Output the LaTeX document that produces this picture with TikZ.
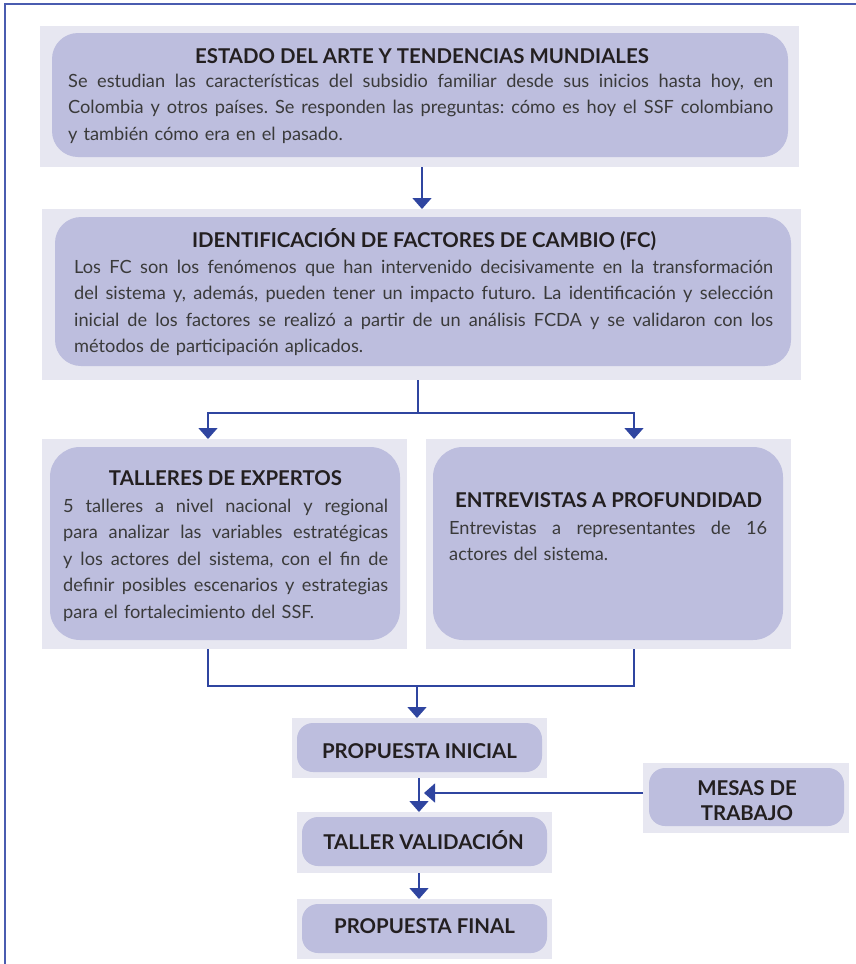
\documentclass[tikz,border=0pt]{standalone}
\usepackage{fontspec}
\setmainfont{Lato}
\usetikzlibrary{arrows.meta}
\definecolor{outerc}{HTML}{E7E7F1}
\definecolor{innerc}{HTML}{BDBEDE}
\definecolor{linec}{HTML}{2F45A0}
\definecolor{framec}{HTML}{4A5CB0}
\definecolor{titlec}{HTML}{231F20}
\definecolor{bodyc}{HTML}{3A3A3A}
\newcommand\jline[2]{\hbox to #1pt{\spaceskip=\fontdimen2\font plus 1fil\relax #2}\par}
\newcommand\lastln[1]{\hbox{#1}\par}
\tikzset{
  outerbox/.style={fill=outerc, draw=none, anchor=north west, inner sep=0pt, outer sep=0pt},
  innerbox/.style={fill=innerc, draw=none, anchor=north west, inner sep=0pt, outer sep=0pt, rounded corners=#1},
  innerbox/.default=26pt,
  titletext/.style={anchor=base, inner sep=0pt, text=titlec, font=\fontsize{20.4}{25}\selectfont\bfseries},
  bodytext/.style={anchor=base west, inner sep=0pt, text=bodyc, font=\fontsize{18.2}{26.5}\selectfont\frenchspacing},
  conn/.style={draw=linec, line width=1.5pt},
  arr/.style={conn, -{Triangle[width=19pt,length=11pt]}},
}
\begin{document}
\begin{tikzpicture}[x=1pt,y=-1pt]
\useasboundingbox (0,0) rectangle (856,964);
\draw[framec, line width=1.3pt] (5,964) -- (5,4) -- (856,4);

% Box 1
\node[outerbox, minimum width=759, minimum height=141] (b1o) at (40,26) {};
\node[innerbox, minimum width=736, minimum height=124] (b1i) at (52,33) {};
\node[titletext] (b1t) at (422,63) {ESTADO DEL ARTE Y TENDENCIAS MUNDIALES};
\node[bodytext, text width=705] (b1b) at (68,87) {%
\jline{705}{Se estudian las características del subsidio familiar desde sus inicios hasta hoy, en}
\jline{705}{Colombia y otros países. Se responden las preguntas: cómo es hoy el SSF colombiano}
\lastln{y también cómo era en el pasado.}};

% Box 2
\node[outerbox, minimum width=759, minimum height=171] (b2o) at (42,209) {};
\node[innerbox, minimum width=736, minimum height=149] (b2i) at (55,217) {};
\node[titletext] (b2t) at (424,247) {IDENTIFICACIÓN DE FACTORES DE CAMBIO (FC)};
\node[bodytext, text width=699] (b2b) at (74,273) {%
\jline{699}{Los FC son los fenómenos que han intervenido decisivamente en la transformación}
\jline{699}{del sistema y, además, pueden tener un impacto futuro. La identificación y selección}
\jline{699}{inicial de los factores se realizó a partir de un análisis FCDA y se validaron con los}
\lastln{métodos de participación aplicados.}};

% Box 3
\node[outerbox, minimum width=365, minimum height=210] (b3o) at (42,439) {};
\node[innerbox=30pt, minimum width=350, minimum height=193] (b3i) at (50,447) {};
\node[titletext] (b3t) at (225.5,485) {TALLERES DE EXPERTOS};
\node[bodytext, text width=325] (b3b) at (63,512) {%
\jline{325}{5 talleres a nivel nacional y regional}
\jline{325}{para analizar las variables estratégicas}
\jline{325}{y los actores del sistema, con el fin de}
\jline{325}{definir posibles escenarios y estrategias}
\lastln{para el fortalecimiento del SSF.}};

% Box 4
\node[outerbox, minimum width=365, minimum height=210] (b4o) at (426,439) {};
\node[innerbox=30pt, minimum width=350, minimum height=193] (b4i) at (433,447) {};
\node[titletext] (b4t) at (608.5,507) {ENTREVISTAS A PROFUNDIDAD};
\node[bodytext, text width=318] (b4b) at (449,534) {%
\jline{318}{Entrevistas a representantes de 16}
\lastln{actores del sistema.}};

% Small boxes
\node[outerbox, minimum width=255, minimum height=60] (p1o) at (292,718) {};
\node[innerbox=16pt, minimum width=245, minimum height=49] (p1i) at (297,723) {};
\node[titletext] (p1t) at (419.5,758) {PROPUESTA INICIAL};

\node[outerbox, minimum width=255, minimum height=61] (p2o) at (297,812) {};
\node[innerbox=16pt, minimum width=245, minimum height=49] (p2i) at (302,817) {};
\node[titletext] (p2t) at (423.5,849) {TALLER VALIDACIÓN};

\node[outerbox, minimum width=255, minimum height=60] (p3o) at (297,899) {};
\node[innerbox=16pt, minimum width=245, minimum height=49] (p3i) at (302,904) {};
\node[titletext] (p3t) at (424.5,933) {PROPUESTA FINAL};

\node[outerbox, minimum width=206, minimum height=70] (mo) at (643,763) {};
\node[innerbox=16pt, minimum width=195, minimum height=58] (mi) at (649,768) {};
\node[titletext] (mt1) at (747,795) {MESAS DE};
\node[titletext] (mt2) at (747,820) {TRABAJO};

% Connectors
\draw[arr] (422,0 |- b1o.south) -- (422,0 |- b2o.north);
\draw[arr] (418,0 |- b2o.south) -- (418,413) -| (208,0 |- b3o.north);
\draw[arr] (418,413) -| (634,0 |- b4o.north);
\draw[conn] (208,0 |- b3o.south) -- (208,686) -| (634,0 |- b4o.south);
\draw[arr] (417,686) -- (417,0 |- p1o.north);
\draw[arr] (419,0 |- p1o.south) -- (419,0 |- p2o.north);
\draw[arr] (419,0 |- p2o.south) -- (419,0 |- p3o.north);
\draw[arr] (mo.west |- 0,793) -- (424,793);
\end{tikzpicture}
\end{document}
